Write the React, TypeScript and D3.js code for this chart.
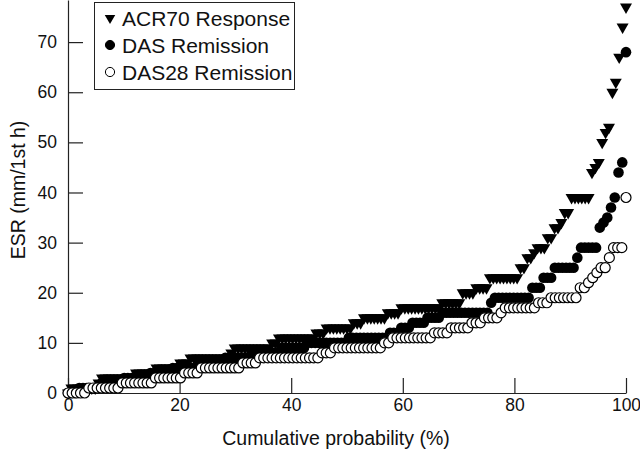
import React, { useEffect, useRef } from "react";
import * as d3 from "d3";

// ESR level (mm/1st h) and how many patients sit on that level
const acr70Esr = [0, 1, 2, 3, 4, 5, 6, 7, 8, 9, 10, 11, 12, 13, 14, 15, 16, 17, 18, 20, 21, 23, 25, 27, 28, 29, 31, 33, 34, 36, 39, 44, 45, 46, 50, 52, 53, 60, 62, 67, 73, 77];
const acr70Count = [1, 8, 1, 10, 6, 7, 3, 12, 1, 11, 2, 11, 3, 8, 3, 7, 4, 12, 6, 4, 4, 9, 2, 2, 1, 3, 2, 2, 1, 2, 6, 1, 1, 1, 1, 1, 1, 1, 1, 1, 1, 1];

const dasEsr = [0, 1, 2, 3, 4, 5, 6, 7, 8, 9, 10, 11, 12, 13, 14, 15, 16, 18, 19, 21, 23, 25, 27, 29, 33, 34, 35, 37, 39, 44, 46, 68];
const dasCount = [3, 6, 6, 7, 6, 7, 7, 7, 8, 7, 11, 11, 3, 3, 4, 4, 13, 1, 10, 3, 3, 6, 1, 5, 1, 1, 1, 1, 1, 1, 1, 1];

const das28Esr = [0, 1, 2, 3, 4, 5, 6, 7, 8, 9, 10, 11, 12, 13, 14, 15, 16, 17, 18, 19, 21, 22, 23, 24, 25, 27, 29, 39];
const das28Count = [5, 8, 8, 7, 4, 10, 4, 15, 3, 12, 2, 10, 4, 5, 3, 4, 1, 8, 3, 7, 2, 1, 1, 1, 2, 1, 3, 1];

const xTicks = [0, 20, 40, 60, 80, 100];
const yTicks = [0, 10, 20, 30, 40, 50, 60, 70];
const legendLabels = ["ACR70 Response", "DAS Remission", "DAS28 Remission"];

const FONT = "'Liberation Sans', Arial, Helvetica, sans-serif";

type Pt = { p: number; esr: number };

// sorted ESR values -> cumulative probability (%) by rank
const toCumulative = (levels: number[], counts: number[]): Pt[] => {
  const vals: number[] = [];
  levels.forEach((v, i) => {
    for (let k = 0; k < counts[i]; k++) vals.push(v);
  });
  const n = vals.length;
  return vals.map((v, i) => ({ p: (i / (n - 1)) * 100, esr: v }));
};

const App: React.FC = () => {
  const svgRef = useRef<SVGSVGElement>(null);
  const width = 640;
  const height = 451;

  useEffect(() => {
    if (!svgRef.current) return;
    const svg = d3.select(svgRef.current);
    svg.selectAll("*").remove();

    const x = d3.scaleLinear().domain([0, 100]).range([68, 626]);
    const y = d3.scaleLinear().domain([0, 78.4]).range([393, 0]);

    svg.append("rect").attr("width", width).attr("height", height).attr("fill", "#fff");

    // Axes (ticks point inward)
    const xAxis = svg
      .append("g")
      .attr("transform", `translate(0,${y(0)})`)
      .call(
        d3.axisBottom(x).tickValues(xTicks).tickSizeInner(-15).tickSizeOuter(0).tickPadding(6)
      );
    const yAxis = svg
      .append("g")
      .attr("transform", `translate(${x(0)},0)`)
      .call(
        d3.axisLeft(y).tickValues(yTicks).tickSizeInner(-15).tickSizeOuter(0).tickPadding(11)
      );

    [xAxis, yAxis].forEach((ax) => {
      ax.selectAll("path").attr("stroke", "#222").attr("stroke-width", 1.2);
      ax.selectAll("line").attr("stroke", "#222").attr("stroke-width", 1.2);
      ax.selectAll("text")
        .attr("fill", "#111")
        .attr("font-family", FONT)
        .attr("font-size", "17.5px");
    });

    svg
      .append("text")
      .attr("x", 336)
      .attr("y", 445)
      .attr("text-anchor", "middle")
      .attr("font-family", FONT)
      .attr("font-size", "19.5px")
      .attr("fill", "#111")
      .text("Cumulative probability (%)");

    svg
      .append("text")
      .attr("transform", "translate(25,190) rotate(-90)")
      .attr("text-anchor", "middle")
      .attr("font-family", FONT)
      .attr("font-size", "19.5px")
      .attr("fill", "#111")
      .text("ESR (mm/1st h)");

    const tri = d3.symbol().type(d3.symbolTriangle).size(62);

    // ACR70 triangles
    svg
      .append("g")
      .selectAll("path")
      .data(toCumulative(acr70Esr, acr70Count))
      .enter()
      .append("path")
      .attr("d", tri() as string)
      .attr("transform", (d) => `translate(${x(d.p)},${y(d.esr)}) rotate(180)`)
      .attr("fill", "#000");

    // DAS filled circles
    svg
      .append("g")
      .selectAll("circle")
      .data(toCumulative(dasEsr, dasCount))
      .enter()
      .append("circle")
      .attr("cx", (d) => x(d.p))
      .attr("cy", (d) => y(d.esr))
      .attr("r", 5.3)
      .attr("fill", "#000");

    // DAS28 open circles
    svg
      .append("g")
      .selectAll("circle")
      .data(toCumulative(das28Esr, das28Count))
      .enter()
      .append("circle")
      .attr("cx", (d) => x(d.p))
      .attr("cy", (d) => y(d.esr))
      .attr("r", 5)
      .attr("fill", "#fff")
      .attr("stroke", "#000")
      .attr("stroke-width", 1.2);

    // Legend
    const legend = svg.append("g");
    legend
      .append("rect")
      .attr("x", 94.5)
      .attr("y", 2.5)
      .attr("width", 200)
      .attr("height", 87)
      .attr("fill", "#fff")
      .attr("stroke", "#222")
      .attr("stroke-width", 1);

    legendLabels.forEach((label, i) => {
      const cy = 18 + i * 27;
      if (i === 0) {
        legend
          .append("path")
          .attr("d", d3.symbol().type(d3.symbolTriangle).size(48)() as string)
          .attr("transform", `translate(110,${cy}) rotate(180)`)
          .attr("fill", "#000");
      } else {
        legend
          .append("circle")
          .attr("cx", 110)
          .attr("cy", cy)
          .attr("r", 4.6)
          .attr("fill", i === 1 ? "#000" : "#fff")
          .attr("stroke", "#000")
          .attr("stroke-width", 1);
      }
      legend
        .append("text")
        .attr("x", 122)
        .attr("y", cy)
        .attr("dy", "0.36em")
        .attr("font-family", FONT)
        .attr("font-size", "21px")
        .attr("fill", "#111")
        .text(label);
    });
  }, []);

  return (
    <svg
      ref={svgRef}
      width={width}
      height={height}
      style={{ position: "absolute", left: 0, top: 0 }}
    />
  );
};

export default App;
